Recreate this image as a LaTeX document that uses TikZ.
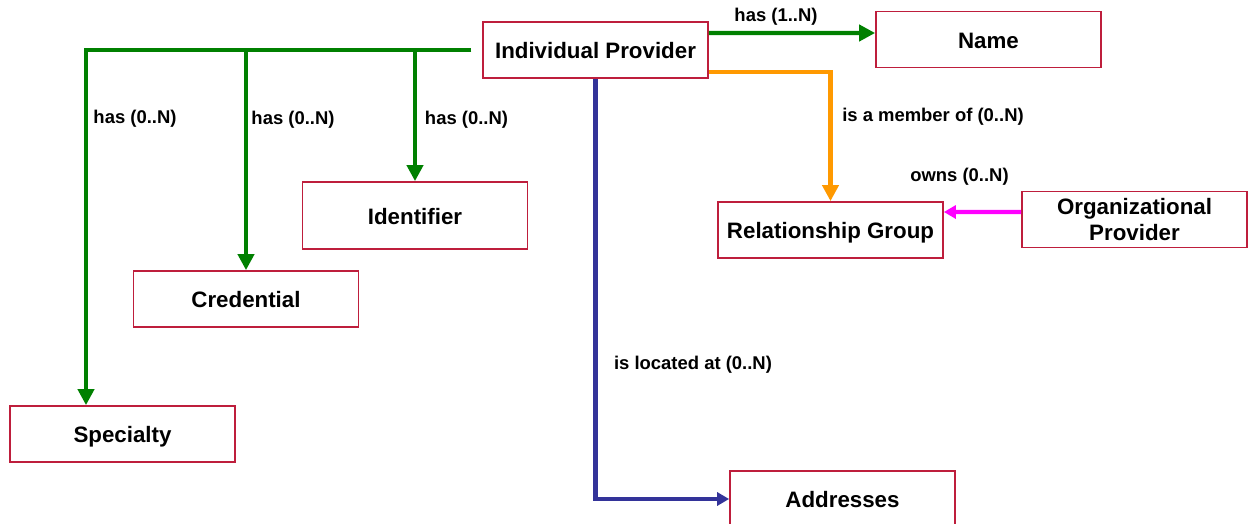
\documentclass[tikz,border=0pt]{standalone}
\usepackage{fontspec}
\setmainfont{Liberation Sans}
\usetikzlibrary{arrows.meta}
\definecolor{boxred}{RGB}{190,30,60}
\definecolor{hasgreen}{RGB}{0,128,0}
\definecolor{memorange}{RGB}{255,153,0}
\definecolor{ownpink}{RGB}{255,0,255}
\definecolor{locblue}{RGB}{51,51,153}

\begin{document}
\begin{tikzpicture}[x=0.02cm,y=-0.02cm,
  entity/.style={draw=boxred,line width=1pt,fill=white,minimum width=4.5cm,
    minimum height=1.12cm,inner sep=0pt,align=center,
    font=\fontsize{12.7}{14.5}\selectfont\bfseries},
  word/.style={entity,text height=10pt,text depth=0pt},
  rel/.style={line width=2.3pt,-{Triangle[length=0.32cm,width=0.32cm]}},
  small/.style={line width=2.3pt,-{Triangle[length=0.24cm,width=0.26cm]}},
  lbl/.style={font=\fontsize{10.5}{12}\selectfont\bfseries,inner sep=0pt}]
\useasboundingbox (0,0) rectangle (1248,524);
%\draw[step=50,gray,very thin] (0,0) grid (1248,524);
\node[word] (ip) at (595.5,50) {Individual Provider};
\node[word] (name) at (988.5,39.5) {Name};
\node[word,minimum height=1.34cm] (ident) at (415,215.5) {Identifier};
\node[word] (cred) at (246,299) {Credential};
\node[word] (spec) at (122.5,434) {Specialty};
\node[word] (rg) at (830.5,230) {Relationship Group};
\node[entity] (org) at (1134.5,219.5) {Organizational\\Provider};
\node[word] (addr) at (842.5,499) {Addresses};
% has
\draw[rel,hasgreen,shorten <=0.22cm] (ip.west) -| ([xshift=-0.73cm]spec.north);
\draw[rel,hasgreen,shorten <=0.22cm] (ip.west) -| (cred.north);
\draw[rel,hasgreen,shorten <=0.22cm] (ip.west) -| (ident.north);
\draw[rel,hasgreen] ([yshift=0.34cm]ip.east) -- ([yshift=0.13cm]name.west);
% member / owns / located
\draw[rel,memorange] ([yshift=-0.44cm]ip.east) -| (rg.north);
\draw[small,ownpink] ([yshift=0.15cm]org.west) -- ([yshift=0.36cm]rg.east);
\draw[small,locblue] (ip.south) |- (addr.west);
% labels
\node[lbl] (lname) at (776,17) {has (1..N)};
\node[lbl] (lspec) at (135,119) {has (0..N)};
\node[lbl] (lcred) at (293,120) {has (0..N)};
\node[lbl] (lident) at (466.5,120) {has (0..N)};
\node[lbl] (lrg) at (933,117) {is a member of (0..N)};
\node[lbl] (lorg) at (959.5,177) {owns (0..N)};
\node[lbl] (laddr) at (693,365) {is located at (0..N)};
\end{tikzpicture}
\end{document}
